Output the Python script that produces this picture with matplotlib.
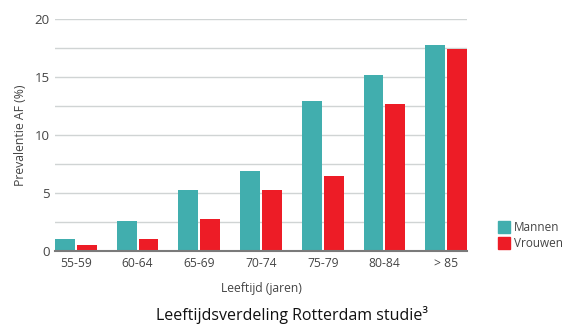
import numpy as np
import matplotlib.pyplot as plt
from matplotlib.patches import Patch

plt.rcParams['font.family'] = ['Open Sans', 'DejaVu Sans']

groepen = ['55-59', '60-64', '65-69', '70-74', '75-79', '80-84', '> 85']
mannen = [1.0, 2.6, 5.3, 6.9, 12.9, 15.2, 17.8]
vrouwen = [0.5, 1.0, 2.8, 5.3, 6.5, 12.7, 17.4]

teal = '#41aeae'
rood = '#ed1c26'
tekst = '#444444'

fig = plt.figure(figsize=(5.67, 3.24), dpi=100)
ax = fig.add_axes([55 / 567, 73 / 324, 412 / 567, 232 / 324])

x = np.arange(len(groepen))
w = 20 / 62
ax.bar(x - 11 / 62, mannen, width=w, color=teal, zorder=3)
ax.bar(x + 11 / 62, vrouwen, width=w, color=rood, zorder=3)

ax.set_xlim(-21 / 62, len(groepen) - 1 + 21 / 62)
ax.set_ylim(0, 20)
ax.set_yticks([0, 5, 10, 15, 20])
ax.set_yticks(np.arange(0, 20.1, 2.5), minor=True)
ax.grid(axis='y', which='both', color='#d0d4d4', linewidth=1, zorder=0)
ax.set_xticks(x)
ax.set_xticklabels(groepen)

for s in ['top', 'right', 'left']:
    ax.spines[s].set_visible(False)
ax.spines['bottom'].set_color('#7a7a7a')
ax.spines['bottom'].set_linewidth(1.5)
ax.spines['bottom'].set_zorder(4)

ax.tick_params(axis='both', which='both', length=0, colors=tekst)
ax.tick_params(axis='y', labelsize=9.5, pad=4)
ax.tick_params(axis='x', labelsize=8.7, pad=4)

ax.set_ylabel('Prevalentie AF (%)', fontsize=8.8, color=tekst, labelpad=5)
ax.set_xlabel('Leeftijd (jaren)', fontsize=8.7, color=tekst, labelpad=9)

fig.text(292 / 567, 4 / 324, 'Leeftijdsverdeling Rotterdam studie\u00b3',
         ha='center', va='baseline', fontsize=11.5, color='#111111')

handles = [Patch(color=teal, label='Mannen'), Patch(color=rood, label='Vrouwen')]
fig.legend(handles=handles, loc='lower left', bbox_to_anchor=(493 / 567, 69 / 324),
           frameon=False, fontsize=8.5, labelcolor=tekst, handlelength=1.0,
           handleheight=1.2, handletextpad=0.35, labelspacing=0.25, borderaxespad=0)

fig.savefig('out.png', dpi=100)
